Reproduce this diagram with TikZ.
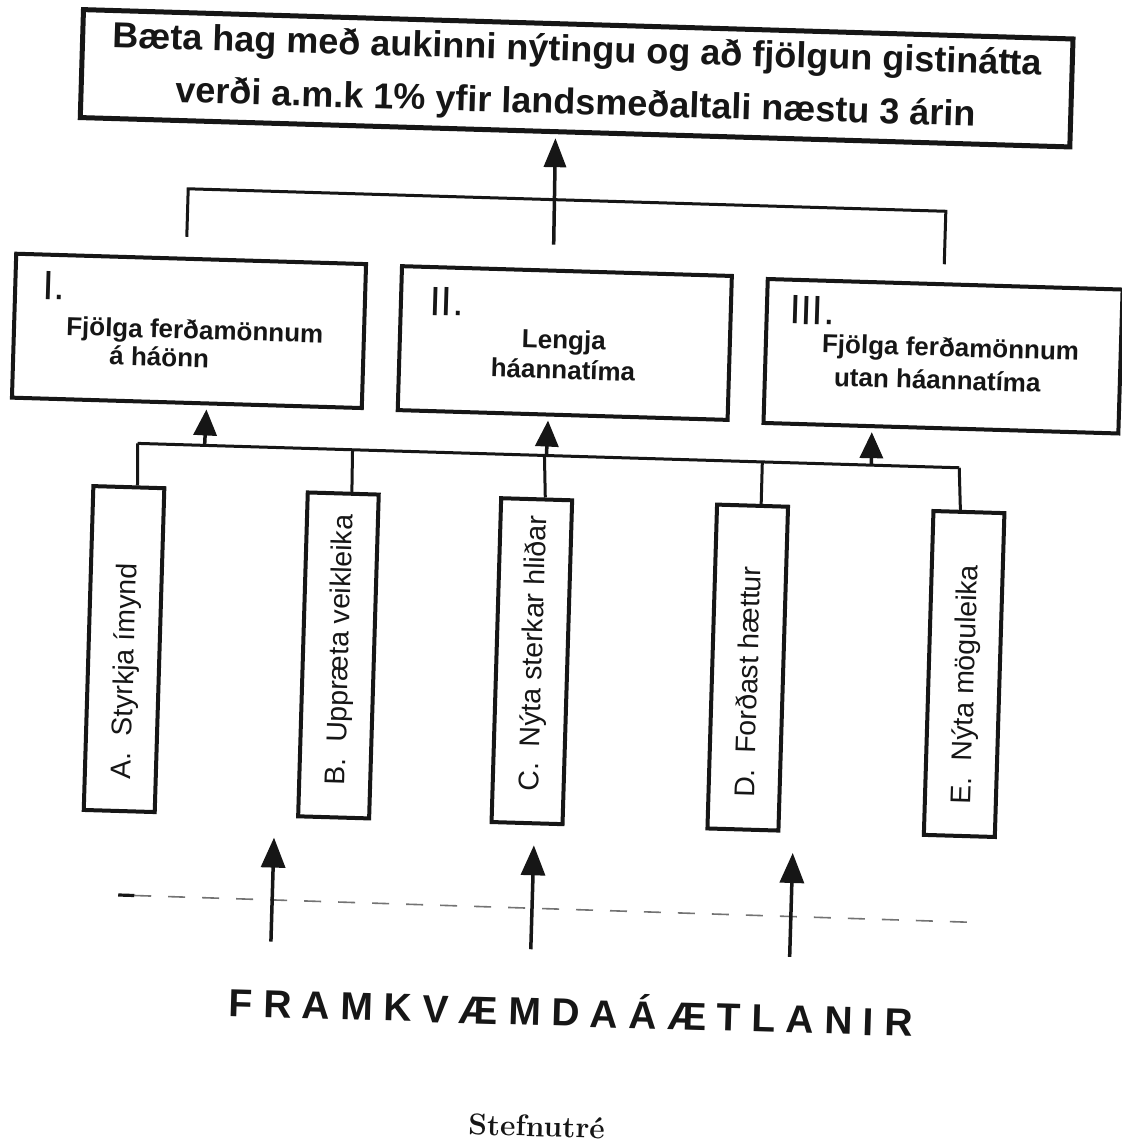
\documentclass[tikz,border=0pt]{standalone}
\usepackage{fontspec}
\newfontfamily\arial{Liberation Sans}
\newfontfamily\arialsp[LetterSpace=27]{Liberation Sans}
\usetikzlibrary{arrows.meta,calc}
\definecolor{ink}{RGB}{22,22,22}
\newcommand{\lgap}{\hspace{0.55em}}
\begin{document}
\begin{tikzpicture}[x=1bp,y=1bp,
  wire/.style={draw=ink, line width=3bp, line join=miter},
  uparrow/.style 2 args={draw=ink, line width=3.5bp, -{Triangle[length=#1,width=#2]}},
  goalbox/.style={draw=ink, line width=5bp, minimum width=990bp, minimum height=108bp,
    inner sep=0pt, align=center, text=ink,
    font=\arial\bfseries\fontsize{36bp}{53bp}\selectfont},
  midbox/.style={draw=ink, line width=4bp, minimum height=144bp, inner sep=0pt},
  numeral/.style={anchor=base west, inner sep=0pt, text=ink,
    font=\arial\fontsize{41bp}{44bp}\selectfont},
  boxtext/.style={inner sep=0pt, text=ink,
    font=\arial\bfseries\fontsize{26bp}{#1}\selectfont},
  leaf/.style={draw=ink, line width=4bp, minimum width=71bp, minimum height=324bp, inner sep=0pt},
  leaflabel/.style={rotate=90, anchor=west, inner sep=0pt, text height=20.4bp, text depth=0pt,
    text=ink, font=\arial\fontsize{28.5bp}{30bp}\selectfont},
  dashline/.style={draw=black!55, line width=1.6bp}
]
\fill[white] (0,0) rectangle (1122,-1144);
\useasboundingbox (0,0) rectangle (1122,-1144);
\begin{scope}[rotate around={-1.7:(561,-572)}, transform shape]

% goal
\node[goalbox] (goal) at (562,-78)
  {Bæta hag með aukinni nýtingu og að fjölgun gistinátta\\verði a.m.k 1\% yfir landsmeðaltali næstu 3 árin};

% strategy boxes
\node[midbox, minimum width=350bp] (s1) at (182,-342) {};
\node[midbox, minimum width=330bp] (s2) at (558,-343) {};
\node[midbox, minimum width=355bp] (s3) at (936.5,-345) {};

\node[numeral] (n1) at (34,-315) {I.};
\node[numeral] (n2) at (421.6,-319) {II.};
\node[numeral] (n3) at (781.5,-317) {III.};

\node[boxtext=28bp, anchor=base west] (t1) at (59,-350)
  {\begin{tabular}[t]{@{}l@{}}Fjölga ferðamönnum\\\hspace*{44bp}á háönn\end{tabular}};
\node[boxtext=30bp, anchor=base] (t2) at (557,-349)
  {\begin{tabular}[t]{@{}c@{}}Lengja\\háannatíma\end{tabular}};
\node[boxtext=33bp, anchor=base west] (t3) at (815,-345)
  {\begin{tabular}[t]{@{}l@{}}Fjölga ferðamönnum\\\hspace*{13bp}utan háannatíma\end{tabular}};

% top bracket
\coordinate (k1) at (177,-200);
\coordinate (k2) at (935,-200);
\coordinate (k1e) at (177,-248);
\coordinate (k2e) at (935,-253);
\coordinate (ka) at (544,-245);
\draw[wire] (k1e) -- (k1) -- (k2) -- (k2e);
\draw[uparrow={29bp}{22bp}, shorten >=4bp] (ka) -- (goal.-109.38);

% leaf boxes
\node[leaf] (A) at (126.5,-662) {};
\node[leaf] (B) at (341,-662) {};
\node[leaf] (C) at (534.5,-662) {};
\node[leaf] (D) at (750.5,-662) {};
\node[leaf] (E) at (967,-662) {};

\node[leaflabel] (Al) at (126.5,-792) {A.\lgap Styrkja ímynd};
\node[leaflabel] (Bl) at (341,-792) {B.\lgap Uppræta veikleika};
\node[leaflabel] (Cl) at (534.5,-792) {C.\lgap Nýta sterkar hliðar};
\node[leaflabel] (Dl) at (750.5,-792) {D.\lgap Forðast hættur};
\node[leaflabel] (El) at (967,-792) {E.\lgap Nýta möguleika};

% lower bracket
\coordinate (jA) at (134,-456);
\coordinate (jB) at (349,-456);
\coordinate (jC) at (541,-456);
\coordinate (jD) at (759,-456);
\coordinate (jE) at (956,-456);
\draw[wire] (jA) -- (jE);
\draw[wire] (jA) -- (A.87.35);
\draw[wire] (jB) -- (B.87.17);
\draw[wire] (jC) -- (C.87.7);
\draw[wire] (jD) -- (D.87.0);
\draw[wire] (jE) -- (E.93.9);

\coordinate (u1) at (201,-456);
\coordinate (u2) at (543,-456);
\coordinate (u3) at (868,-456);
\draw[uparrow={26bp}{23bp}, shorten >=4bp] (u1) -- (s1.-75.22);
\draw[uparrow={26bp}{23bp}, shorten >=4bp] (u2) -- (s2.-101.77);
\draw[uparrow={26bp}{23bp}, shorten >=4bp] (u3) -- (s3.-133.58);

% dashed line
\coordinate (dl) at (128,-908);
\coordinate (dr) at (980,-910);
\draw[dashline] (dl) -- ($(dl)!33bp!(dr)$);
\draw[draw=ink, line width=3.2bp] (dl) -- ($(dl)!16bp!(dr)$);
\draw[dashline, dash pattern=on 17bp off 17bp] ($(dl)!50bp!(dr)$) -- (dr);

% implementation arrows
\coordinate (p1) at (282,-950);
\coordinate (q1) at (282,-846);
\coordinate (p2) at (542,-950);
\coordinate (q2) at (542,-846);
\coordinate (p3) at (801,-950);
\coordinate (q3) at (801,-846);
\draw[uparrow={30bp}{24bp}] (p1) -- (q1);
\draw[uparrow={30bp}{24bp}] (p2) -- (q2);
\draw[uparrow={30bp}{24bp}] (p3) -- (q3);

\node[anchor=base, inner sep=0pt, text=ink,
  font=\arialsp\bfseries\fontsize{39bp}{40bp}\selectfont] (fr) at (584,-1026) {FRAMKVÆMDAÁÆTLANIR};

\node[anchor=base, inner sep=0pt, text=ink,
  font=\bfseries\fontsize{30bp}{32bp}\selectfont] (cap) at (553,-1137) {Stefnutré};
\end{scope}
\end{tikzpicture}
\end{document}
